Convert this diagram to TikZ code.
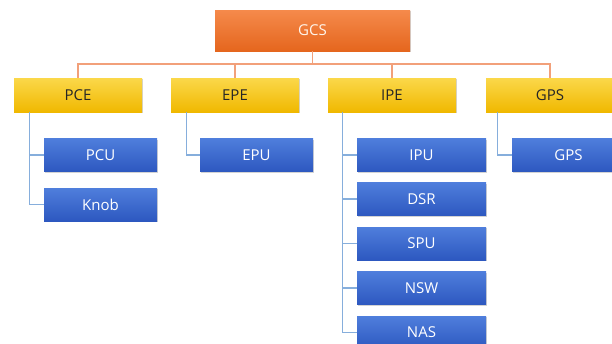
\documentclass[tikz,border=0pt]{standalone}
\usepackage{fontspec}
\setmainfont{Open Sans}
\usetikzlibrary{shadows}

\definecolor{gcsTop}{HTML}{F58A4B}
\definecolor{gcsBot}{HTML}{E5661E}
\definecolor{peTop}{HTML}{FBD84A}
\definecolor{peBot}{HTML}{F0B800}
\definecolor{unitTop}{HTML}{4F7EDC}
\definecolor{unitBot}{HTML}{2D58C0}
\definecolor{orangeLine}{HTML}{F2A07A}
\definecolor{blueLine}{HTML}{86AEDC}

\begin{document}
\begin{tikzpicture}[x=1pt,y=-1pt,
  box/.style={rectangle, inner sep=0pt, font=\fontsize{15}{15}\selectfont,
    drop shadow={shadow xshift=0.6pt, shadow yshift=-1pt, opacity=0.35}},
  gcsbox/.style={box, top color=gcsTop, bottom color=gcsBot, text=white!92!orange,
    minimum width=195pt, minimum height=41pt},
  pebox/.style={box, top color=peTop, bottom color=peBot, text=black!85,
    minimum width=128pt, minimum height=34pt},
  unitbox/.style={box, top color=unitTop, bottom color=unitBot, text=white,
    minimum width=113pt, minimum height=33pt},
  widebox/.style={unitbox, minimum width=129pt},
  orangeline/.style={draw=orangeLine, line width=1.1pt},
  blueline/.style={draw=blueLine, line width=1.1pt}]
\useasboundingbox (0,0) rectangle (612,343);

\node [gcsbox] (gcs) at (312.5,30.5) {GCS};

\node [pebox] (pce) at (78,95) {PCE};
\node [pebox] (epe) at (235,95) {EPE};
\node [pebox] (ipe) at (392,95) {IPE};
\node [pebox] (gps) at (550,95) {GPS};

\node [unitbox] (pcu) at (100.5,155) {PCU};
\node [unitbox] (knob) at (100.5,204.5) {Knob};
\node [unitbox] (epu) at (256.5,155) {EPU};
\node [widebox] (ipu) at (421.5,155) {IPU};
\node [widebox] (dsr) at (421.5,199) {DSR};
\node [widebox] (spu) at (421.5,243.5) {SPU};
\node [widebox] (nsw) at (421.5,288) {NSW};
\node [widebox] (nas) at (421.5,332.5) {NAS};
\node [unitbox] (gpsu) at (568.5,155) {GPS};

\coordinate (hub) at (312.5,64);
\draw [orangeline] (gcs.south) -- (hub);
\draw [orangeline] (hub) -| (pce.north);
\draw [orangeline] (hub) -| (epe.north);
\draw [orangeline] (hub) -| (ipe.north);
\draw [orangeline] (hub) -| (gps.north);

\draw [blueline] ([xshift=16]pce.south west) |- (pcu.west);
\draw [blueline] ([xshift=16]pce.south west) |- (knob.west);
\draw [blueline] ([xshift=16]epe.south west) |- (epu.west);
\draw [blueline] ([xshift=15]ipe.south west) |- (ipu.west);
\draw [blueline] ([xshift=15]ipe.south west) |- (dsr.west);
\draw [blueline] ([xshift=15]ipe.south west) |- (spu.west);
\draw [blueline] ([xshift=15]ipe.south west) |- (nsw.west);
\draw [blueline] ([xshift=15]ipe.south west) |- (nas.west);
\draw [blueline] ([xshift=12]gps.south west) |- (gpsu.west);
\end{tikzpicture}
\end{document}
